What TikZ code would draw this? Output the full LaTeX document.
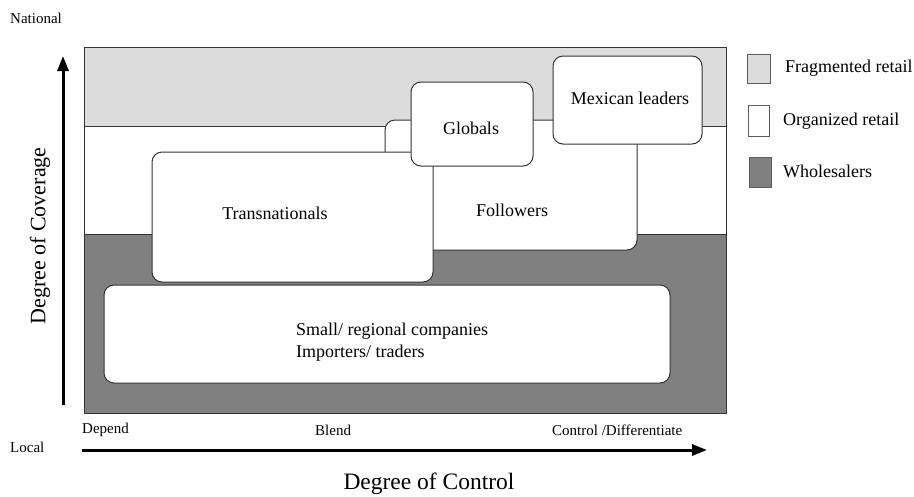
\documentclass[tikz,border=0pt]{standalone}
\usepackage{fontspec}
\setmainfont{Liberation Serif}
\usepackage{tikz}
\usetikzlibrary{arrows.meta,positioning}
\definecolor{Frag_Gray}{HTML}{DCDCDC}
\definecolor{Whole_Gray}{HTML}{808080}
\definecolor{Edge_Gray}{HTML}{333333}

\begin{document}
\begin{tikzpicture}[x=1pt, y=-1pt,
    band/.style={draw=Edge_Gray, line width=1pt},
    firmbox/.style={draw=Edge_Gray, fill=white, line width=1pt, rounded corners=10pt},
    boxtext/.style={font=\fontsize{18}{21}\selectfont, inner sep=0pt},
    small/.style={font=\fontsize{15}{18}\selectfont, inner sep=0pt},
    axislabel/.style={font=\fontsize{22}{26}\selectfont, inner sep=0pt},
    axis/.style={line width=3pt, -{Triangle[length=15pt, width=11pt]}},
    keybox/.style={draw=Edge_Gray!80, line width=1pt}]
    \useasboundingbox (0,0) rectangle (914,496);

    % Coverage bands
    \fill[Frag_Gray] (84,47) rectangle (726,126);
    \fill[white] (84,126) rectangle (726,234);
    \fill[Whole_Gray] (84,234) rectangle (726,413);
    \draw[band] (84,47) rectangle (726,413);
    \draw[band] (84,126) -- (726,126);
    \draw[band] (84,234) -- (726,234);

    % Firm groups
    \draw[firmbox] (385,120) rectangle (637,250);
    \node[boxtext] (followers) at (512,210) {Followers};
    \draw[firmbox] (152,152) rectangle (433,282);
    \node[boxtext] (trans) at (275,213) {Transnationals};
    \draw[firmbox] (411,82) rectangle (533,166);
    \node[boxtext] (globals) at (471,128) {Globals};
    \draw[firmbox] (553,56) rectangle (702,144);
    \node[boxtext] (mexican) at (630,98) {Mexican leaders};
    \draw[firmbox] (104,285) rectangle (670,383);
    \node[boxtext, align=left, anchor=west, font=\fontsize{18}{21.5}\selectfont] (small) at (296,342)
        {Small/ regional companies\\Importers/ traders};

    % Vertical axis
    \coordinate (ybot) at (63,405);
    \coordinate (ytop) at (63,56);
    \draw[axis] (ybot) -- (ytop);
    \node[small, anchor=west] (national) at (10,18) {National};
    \node[axislabel, rotate=90] (coverage) at (40,236) {Degree of Coverage};

    % Horizontal axis
    \coordinate (xleft) at (82,450);
    \coordinate (xright) at (707,450);
    \draw[axis] (xleft) -- (xright);
    \node[small, anchor=west] (local) at (10,447) {Local};
    \node[small, anchor=west] (depend) at (82,430) {Depend};
    \node[small, anchor=west] (blend) at (315,430) {Blend};
    \node[small, anchor=west] (control) at (552,430) {Control /Differentiate};
    \node[axislabel, font=\fontsize{23.5}{27}\selectfont] (degcontrol) at (429,484) {Degree of Control};

    % Legend
    \draw[keybox, fill=Frag_Gray] (747,54) rectangle (770,83);
    \node[boxtext, anchor=west] (fragkey) at (785,68) {Fragmented retail};
    \draw[keybox, fill=white] (748,105) rectangle (769,136);
    \node[boxtext, anchor=west] (orgkey) at (783,121) {Organized retail};
    \draw[keybox, fill=Whole_Gray] (749,157) rectangle (771,187);
    \node[boxtext, anchor=west] (wholekey) at (783,171) {Wholesalers};

\end{tikzpicture}
\end{document}
